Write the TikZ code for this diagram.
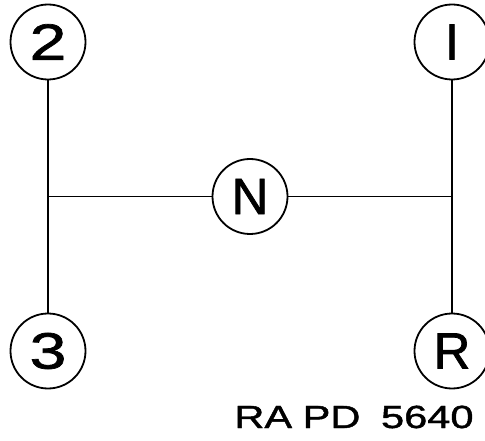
\documentclass[tikz,border=0pt]{standalone}
\usepackage{fontspec}
\setsansfont[FakeBold=1.4]{Liberation Sans}
\newfontfamily\widefont[FakeStretch=1.3,FakeBold=1.4]{Liberation Sans}
\usetikzlibrary{positioning}
\tikzset{gear/.style={circle, draw, line width=1.8pt, minimum size=75pt, inner sep=0pt,
  font=\sffamily\fontsize{51}{51}\selectfont}}
\begin{document}
\begin{tikzpicture}[x=1pt, y=-1pt, on grid, auto]
\useasboundingbox (0,0) rectangle (485,441);
\node[gear] (2) at (48,42) {\widefont 2};
\node[gear] (1) [right=404pt of 2] {I};
\node[gear] (3) [below=309pt of 2] {\widefont 3};
\node[gear] (R) [below=309pt of 1] {R};
\node[gear] (N) [below right=154.5pt and 202pt of 2] {N};
\coordinate (L) at (2 |- N);
\coordinate (K) at (1 |- N);
\node (code) [anchor=base] at (354,428) {\widefont\fontsize{32}{32}\selectfont RA\hspace{-1pt} PD\hspace{9pt} 5640};

\path [-, line width=1.5pt] (2) edge (3);
\path [-, line width=1.5pt] (1) edge (R);
\path [-, line width=1.5pt] (L) edge (N);
\path [-, line width=1.5pt] (N) edge (K);
\end{tikzpicture}
\end{document}
